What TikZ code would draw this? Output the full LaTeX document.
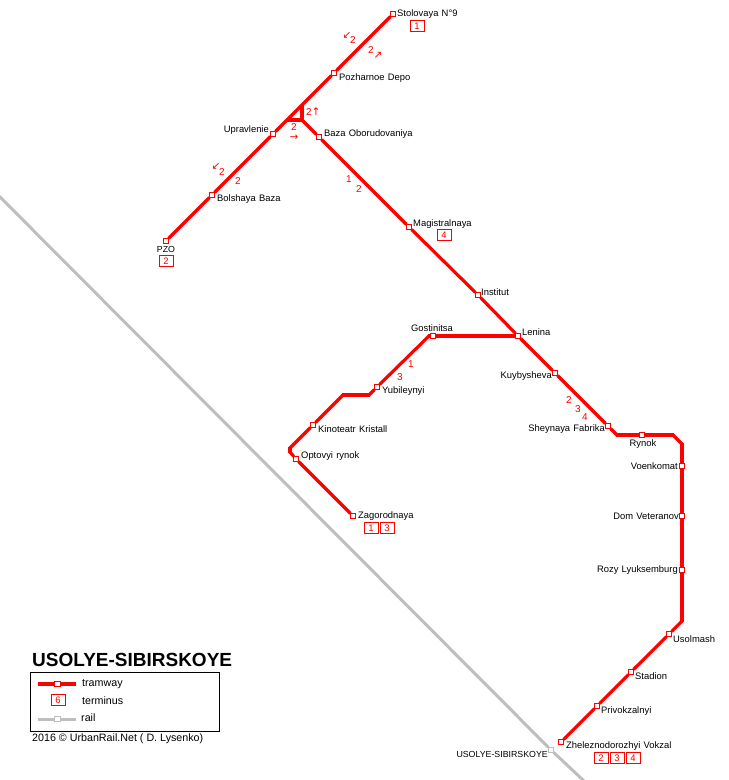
\documentclass[tikz,border=0pt]{standalone}
\usepackage{fontspec}
\setmainfont{Liberation Sans}
\newfontfamily\arrowfont{DejaVu Sans}
\newfontfamily\stnfont[WordSpace=1.25]{Liberation Sans}
\definecolor{tramred}{RGB}{255,0,0}
\definecolor{railgrey}{RGB}{190,190,190}
\tikzset{
  stn/.style={draw=tramred,fill=white,line width=1pt,minimum size=5.6pt,inner sep=0pt},
  stnrail/.style={stn,draw=railgrey},
  term/.style={draw=tramred,text=tramred,line width=1pt,minimum width=14pt,minimum height=11pt,inner sep=0pt,font=\fontsize{9.5}{10}\selectfont},
  lbl/.style={inner sep=0pt,font=\stnfont\fontsize{9.4}{10}\selectfont},
  lblcaps/.style={inner sep=0pt,font=\fontsize{8.8}{10}\selectfont},
  leglbl/.style={inner sep=0pt,font=\fontsize{10.7}{12}\selectfont},
  num/.style={text=tramred,inner sep=0pt,font=\fontsize{10}{10}\selectfont},
  arr/.style={text=tramred,inner sep=0pt,font=\arrowfont\fontsize{10.5}{10}\selectfont},
  tram/.style={draw=tramred,line width=3.2pt,line join=round,shorten <=-1pt,shorten >=-1pt},
  rail/.style={draw=railgrey,line width=3pt,shorten <=-1pt,shorten >=-1pt}
}
\begin{document}
\begin{tikzpicture}[x=1pt,y=-1pt]
\useasboundingbox (0,0) rectangle (729,780);
\coordinate (railstart) at (0,197);
\coordinate (railend) at (583,780);
\coordinate (wyetop) at (302,105);
\coordinate (wyeleft) at (287,120);
\coordinate (wyecorner) at (302,120);
\coordinate (bendrynoka) at (617,435);
\coordinate (bendrynokb) at (673,435);
\coordinate (bendrynokc) at (682,444);
\coordinate (bendusol) at (682,621);
\coordinate (bendgost) at (429,336);
\coordinate (bendyuba) at (369,395);
\coordinate (bendyubb) at (343,395);
\coordinate (bendopta) at (290,448);
\coordinate (bendoptb) at (290,452);
\node[stn] (stolovaya) at (393,14) {};
\node[stn] (pozharnoe) at (334,73) {};
\node[stn] (upravlenie) at (273,134) {};
\node[stn] (bolshaya) at (212,195) {};
\node[stn] (pzo) at (166,241) {};
\node[stn] (baza) at (319,137) {};
\node[stn] (magistralnaya) at (409,227) {};
\node[stn] (institut) at (478,295) {};
\node[stn] (lenina) at (518,336) {};
\node[stn] (kuybysheva) at (555,373) {};
\node[stn] (sheynaya) at (608,426) {};
\node[stn] (rynok) at (642,435) {};
\node[stn] (voenkomat) at (682,466) {};
\node[stn] (veteranov) at (682,516) {};
\node[stn] (rozy) at (682,570) {};
\node[stn] (usolmash) at (669,634) {};
\node[stn] (stadion) at (631,672) {};
\node[stn] (privokzalnyi) at (597,706) {};
\node[stn] (vokzal) at (561,742) {};
\node[stn] (gostinitsa) at (433,336) {};
\node[stn] (yubileynyi) at (377,387) {};
\node[stn] (kinoteatr) at (313,425) {};
\node[stn] (optovyi) at (296,459) {};
\node[stn] (zagorodnaya) at (353,516) {};
\node[stnrail] (usolyerail) at (551,750) {};
\draw[rail] (railstart) -- (usolyerail);
\draw[rail] (usolyerail) -- (railend);
\draw[tram] (stolovaya) -- (pozharnoe);
\draw[tram] (pozharnoe) -- (upravlenie);
\draw[tram] (upravlenie) -- (bolshaya);
\draw[tram] (bolshaya) -- (pzo);
\draw[draw=tramred,line width=4.4pt] (wyetop) -- (wyecorner) -- (wyeleft);
\draw[tram] (wyecorner) -- (baza);
\draw[tram] (baza) -- (magistralnaya);
\draw[tram] (magistralnaya) -- (institut);
\draw[tram] (institut) -- (lenina);
\draw[tram] (lenina) -- (kuybysheva);
\draw[tram] (kuybysheva) -- (sheynaya);
\draw[tram] (sheynaya) -- (bendrynoka);
\draw[tram] (bendrynoka) -- (rynok);
\draw[tram] (rynok) -- (bendrynokb);
\draw[tram] (bendrynokb) -- (bendrynokc);
\draw[tram] (bendrynokc) -- (voenkomat);
\draw[tram] (voenkomat) -- (veteranov);
\draw[tram] (veteranov) -- (rozy);
\draw[tram] (rozy) -- (bendusol);
\draw[tram] (bendusol) -- (usolmash);
\draw[tram] (usolmash) -- (stadion);
\draw[tram] (stadion) -- (privokzalnyi);
\draw[tram] (privokzalnyi) -- (vokzal);
\draw[tram] (lenina) -- (gostinitsa);
\draw[tram] (gostinitsa) -- (bendgost);
\draw[tram] (bendgost) -- (yubileynyi);
\draw[tram] (yubileynyi) -- (bendyuba);
\draw[tram] (bendyuba) -- (bendyubb);
\draw[tram] (bendyubb) -- (kinoteatr);
\draw[tram] (kinoteatr) -- (bendopta);
\draw[tram] (bendopta) -- (bendoptb);
\draw[tram] (bendoptb) -- (optovyi);
\draw[tram] (optovyi) -- (zagorodnaya);
\node[lbl,anchor=west] (lblstolovaya) at (397,14) {Stolovaya N°9};
\node[lbl,anchor=west] (lblpozharnoe) at (339,78) {Pozharnoe Depo};
\node[lbl,anchor=east] (lblupravlenie) at (269,130) {Upravlenie};
\node[lbl,anchor=west] (lblbaza) at (324,134) {Baza Oborudovaniya};
\node[lbl,anchor=west] (lblbolshaya) at (217,199) {Bolshaya Baza};
\node[lblcaps] (lblpzo) at (166,249) {PZO};
\node[lbl,anchor=west] (lblmagistralnaya) at (413,224) {Magistralnaya};
\node[lbl,anchor=west] (lblinstitut) at (481,292) {Institut};
\node[lbl,anchor=west] (lbllenina) at (522,332) {Lenina};
\node[lbl] (lblgostinitsa) at (432,328) {Gostinitsa};
\node[lbl,anchor=east] (lblkuybysheva) at (552,376) {Kuybysheva};
\node[lbl,anchor=east] (lblsheynaya) at (605,429) {Sheynaya Fabrika};
\node[lbl] (lblrynok) at (643,444) {Rynok};
\node[lbl,anchor=east] (lblvoenkomat) at (678,466) {Voenkomat};
\node[lbl,anchor=east] (lblveteranov) at (679,516) {Dom Veteranov};
\node[lbl,anchor=east] (lblrozy) at (678,570) {Rozy Lyuksemburg};
\node[lbl,anchor=west] (lblusolmash) at (673,639) {Usolmash};
\node[lbl,anchor=west] (lblstadion) at (635,676) {Stadion};
\node[lbl,anchor=west] (lblprivokzalnyi) at (601,711) {Privokzalnyi};
\node[lbl,anchor=west] (lblvokzal) at (566,746) {Zheleznodorozhyi Vokzal};
\node[lblcaps,anchor=east] (lblusolyerail) at (548,754) {USOLYE-SIBIRSKOYE};
\node[lbl,anchor=west] (lblyubileynyi) at (382,391) {Yubileynyi};
\node[lbl,anchor=west] (lblkinoteatr) at (318,429) {Kinoteatr Kristall};
\node[lbl,anchor=west] (lbloptovyi) at (301,456) {Optovyi rynok};
\node[lbl,anchor=west] (lblzagorodnaya) at (358,516) {Zagorodnaya};
\node[term] (termstolovaya) at (417,26) {1};
\node[term] (termpzo) at (166,261) {2};
\node[term] (termmagistralnaya) at (444,235) {4};
\node[term] (termzagorodnayaa) at (371,528) {1};
\node[term] (termzagorodnayab) at (387,528) {3};
\node[term] (termvokzala) at (601,758) {2};
\node[term] (termvokzalb) at (617,758) {3};
\node[term] (termvokzalc) at (633,758) {4};
\node[arr] (arrupperdown) at (347,35) {↙};
\node[num] (numupperdown) at (353,40) {2};
\node[num] (numupperup) at (371,50) {2};
\node[arr] (arrupperup) at (378,55) {↗};
\node[num] (numwyeup) at (309,112) {2};
\node[arr] (arrwyeup) at (316,112) {↑};
\node[num] (numwyeright) at (294,127) {2};
\node[arr] (arrwyeright) at (294,137.5) {→};
\node[arr] (arrlowerdown) at (216,166) {↙};
\node[num] (numlowerdown) at (222,172) {2};
\node[num] (numlower) at (238,181) {2};
\node[num] (numbazaa) at (349,179) {1};
\node[num] (numbazab) at (359,189) {2};
\node[num] (numyuba) at (411,364) {1};
\node[num] (numyubb) at (400,377) {3};
\node[num] (numfabrikaa) at (569,400) {2};
\node[num] (numfabrikab) at (578,409) {3};
\node[num] (numfabrikac) at (585,417) {4};
\node[anchor=base west,inner sep=0pt,font=\bfseries\fontsize{19}{20}\selectfont] (title) at (32,666) {USOLYE-SIBIRSKOYE};
\node[draw,line width=0.9pt,minimum width=189pt,minimum height=59pt,inner sep=0pt] (legendbox) at (124.5,701.5) {};
\coordinate (legtramstart) at (39,684);
\coordinate (legtramend) at (75,684);
\coordinate (legrailstart) at (39,719);
\coordinate (legrailend) at (75,719);
\node[stn] (legtramstn) at (57.5,684) {};
\node[stnrail] (legrailstn) at (57.5,719) {};
\draw[tram] (legtramstart) -- (legtramstn);
\draw[tram] (legtramstn) -- (legtramend);
\draw[rail] (legrailstart) -- (legrailstn);
\draw[rail] (legrailstn) -- (legrailend);
\node[term] (legterm) at (58,700) {6};
\node[leglbl,anchor=west] (legtramlbl) at (82,684) {tramway};
\node[leglbl,anchor=west] (legtermlbl) at (82,701) {terminus};
\node[leglbl,anchor=west] (legraillbl) at (81,718) {rail};
\node[leglbl,anchor=west] (credit) at (32,739) {2016 © UrbanRail.Net ( D. Lysenko)};
\end{tikzpicture}
\end{document}
